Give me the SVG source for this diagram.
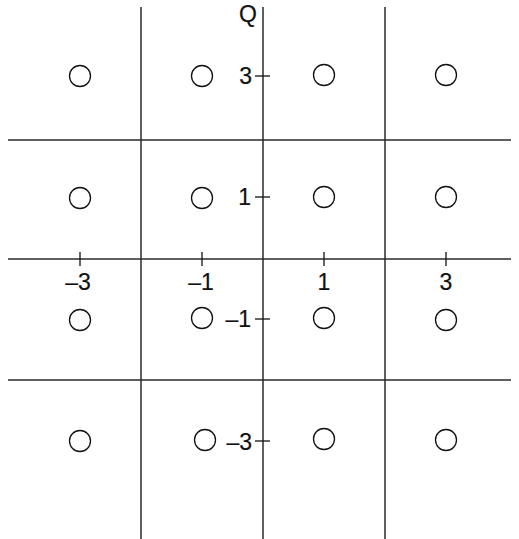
<svg xmlns="http://www.w3.org/2000/svg" width="519" height="539" viewBox="0 0 519 539">
<style>
.ln{stroke:#2a2a2a;stroke-width:1.5;fill:none}
.tk{stroke:#111;stroke-width:1.3;fill:none}
.pt{fill:#fff;stroke:#111;stroke-width:1.3}
text{font-family:"Liberation Sans",Arial,sans-serif;font-size:23px;fill:#111;stroke:#111;stroke-width:0.2}
.c{text-anchor:middle}
.r{text-anchor:end}
</style>
<rect width="519" height="539" fill="#fff"/>
<g id="connectors">
<line class="ln" x1="141" y1="7" x2="141" y2="539"/>
<line class="ln" x1="263" y1="7" x2="263" y2="539"/>
<line class="ln" x1="385" y1="7" x2="385" y2="539"/>
<line class="ln" x1="8" y1="140" x2="511" y2="140"/>
<line class="ln" x1="8" y1="259" x2="511" y2="259"/>
<line class="ln" x1="8" y1="380" x2="511" y2="380"/>
<line class="tk" x1="80" y1="252" x2="80" y2="266"/>
<line class="tk" x1="202" y1="252" x2="202" y2="266"/>
<line class="tk" x1="324" y1="252" x2="324" y2="266"/>
<line class="tk" x1="446" y1="252" x2="446" y2="266"/>
<line class="tk" x1="255" y1="76" x2="270" y2="76"/>
<line class="tk" x1="255" y1="197" x2="270" y2="197"/>
<line class="tk" x1="255" y1="319" x2="270" y2="319"/>
<line class="tk" x1="255" y1="441" x2="270" y2="441"/>
</g>
<g id="labels">
<text class="c" x="248" y="22">Q</text>
<text class="r" x="252" y="84">3</text>
<text class="r" x="251" y="205">1</text>
<text class="r" x="251" y="327">–1</text>
<text class="r" x="252" y="450">–3</text>
<text class="c" x="78" y="290">–3</text>
<text class="c" x="201" y="290">–1</text>
<text class="c" x="324" y="290">1</text>
<text class="c" x="446" y="290">3</text>
</g>
<g id="points">
<g id="p1"><circle class="pt" cx="80" cy="76" r="10.5"/></g>
<g id="p2"><circle class="pt" cx="202" cy="76" r="10.5"/></g>
<g id="p3"><circle class="pt" cx="324" cy="75" r="10.5"/></g>
<g id="p4"><circle class="pt" cx="446" cy="75" r="10.5"/></g>
<g id="p5"><circle class="pt" cx="80" cy="198" r="10.5"/></g>
<g id="p6"><circle class="pt" cx="202" cy="198" r="10.5"/></g>
<g id="p7"><circle class="pt" cx="324" cy="197" r="10.5"/></g>
<g id="p8"><circle class="pt" cx="446" cy="197" r="10.5"/></g>
<g id="p9"><circle class="pt" cx="80" cy="320" r="10.5"/></g>
<g id="p10"><circle class="pt" cx="202" cy="318" r="10.5"/></g>
<g id="p11"><circle class="pt" cx="324" cy="318" r="10.5"/></g>
<g id="p12"><circle class="pt" cx="446" cy="320" r="10.5"/></g>
<g id="p13"><circle class="pt" cx="80" cy="441" r="10.5"/></g>
<g id="p14"><circle class="pt" cx="205" cy="440" r="10.5"/></g>
<g id="p15"><circle class="pt" cx="324" cy="439" r="10.5"/></g>
<g id="p16"><circle class="pt" cx="446" cy="440" r="10.5"/></g>
</g>
</svg>
